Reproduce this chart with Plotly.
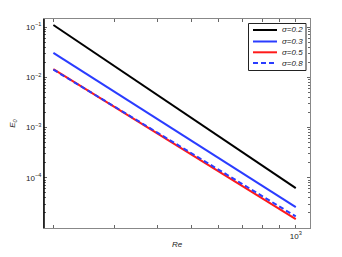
import plotly.graph_objects as go

re_vals = [200, 1000]
sigma_labels = ["σ=0.2", "σ=0.3", "σ=0.5", "σ=0.8"]
e_sigma02 = [0.110, 6.2e-5]
e_sigma03 = [0.0306, 2.6e-5]
e_sigma05 = [0.0145, 1.5e-5]
e_sigma08 = [0.0142, 1.7e-5]

x_tick_vals = [1000]
x_tick_text = ["10<sup>3</sup>"]
x_minor_vals = [200, 300, 400, 500, 600, 700, 800, 900]

y_tick_vals = [1e-4, 1e-3, 1e-2, 1e-1]
y_tick_text = ["10<sup>−4</sup>", "10<sup>−3</sup>", "10<sup>−2</sup>", "10<sup>−1</sup>"]

y_minor_vals = []
for m in [1e-5, 1e-4, 1e-3, 1e-2, 1e-1]:
    for k in range(1, 10):
        v = m * k
        if v < 0.15 and m * k not in y_tick_vals:
            y_minor_vals.append(v)

fig = go.Figure()
styles = [("black", "solid", e_sigma02), ("#2a3cff", "solid", e_sigma03),
          ("#ff1a1a", "solid", e_sigma05), ("#2a3cff", "5px,3px", e_sigma08)]
for lab, (col, dash, ys) in zip(sigma_labels, styles):
    fig.add_trace(go.Scatter(x=re_vals, y=ys, mode="lines", name=lab,
                             line=dict(color=col, width=2, dash=dash),
                             showlegend=False))

# page body has an 8px margin; coordinates below are in picture pixels
OFF = 8
W, H = 326, 241
l, t = 44 - OFF, 19 - OFF
r = W - (310 - OFF)
b = H - (228 - OFF)
pw, ph = W - l - r, H - t - b
def px(x):
    return (x - OFF - l) / pw
def py(y):
    return 1 - (y - OFF - t) / ph

fig.add_shape(type="rect", xref="paper", yref="paper",
              x0=px(248.5), x1=px(306), y0=py(70.5), y1=py(23.5),
              line=dict(color="#222", width=1), fillcolor="white", layer="above")
rows = [30, 41.5, 52.3, 63]
for lab, (col, dash, _), yy in zip(sigma_labels, styles, rows):
    fig.add_shape(type="line", xref="paper", yref="paper",
                  x0=px(253), x1=px(277), y0=py(yy), y1=py(yy),
                  line=dict(color=col, width=2, dash=dash), layer="above")
    fig.add_annotation(xref="paper", yref="paper", x=px(280), y=py(yy),
                       xanchor="left", yanchor="middle", showarrow=False,
                       text="<i>" + lab + "</i>", font=dict(size=8, color="#222"))

fig.update_layout(
    width=W, height=H,
    margin=dict(l=l, r=r, t=t, b=b),
    paper_bgcolor="white", plot_bgcolor="white",
    font=dict(family="Liberation Sans, Arial, sans-serif", size=8, color="#222"),
    showlegend=False,
)
fig.update_xaxes(type="log", range=[2.274, 3.041], automargin=False,
                 tickmode="array", tickvals=x_tick_vals, ticktext=x_tick_text,
                 ticks="inside", ticklen=3, tickcolor="#666",
                 minor=dict(tickmode="array", tickvals=x_minor_vals, ticks="inside",
                            ticklen=3, tickcolor="#666", showgrid=False),
                 showline=True, linecolor="#888", linewidth=1, mirror="ticks",
                 showgrid=False, zeroline=False,
                 title=dict(text="<i>Re</i>", font=dict(size=8), standoff=12))
fig.update_yaxes(type="log", range=[-5.0, -0.84], automargin=False,
                 tickmode="array", tickvals=y_tick_vals, ticktext=y_tick_text,
                 ticks="inside", ticklen=3, tickcolor="#666",
                 minor=dict(tickmode="array", tickvals=y_minor_vals, ticks="inside",
                            ticklen=2, tickcolor="#666", showgrid=False),
                 showline=True, linecolor="#888", linewidth=1, mirror="ticks",
                 showgrid=False, zeroline=False,
                 title=dict(text="<i>E<sub>0</sub></i>", font=dict(size=8), standoff=10))
fig.add_shape(type="line", xref="paper", yref="paper", x0=0, x1=0, y0=0, y1=1,
              line=dict(color="black", width=1.5))
fig.write_html("out.html")
